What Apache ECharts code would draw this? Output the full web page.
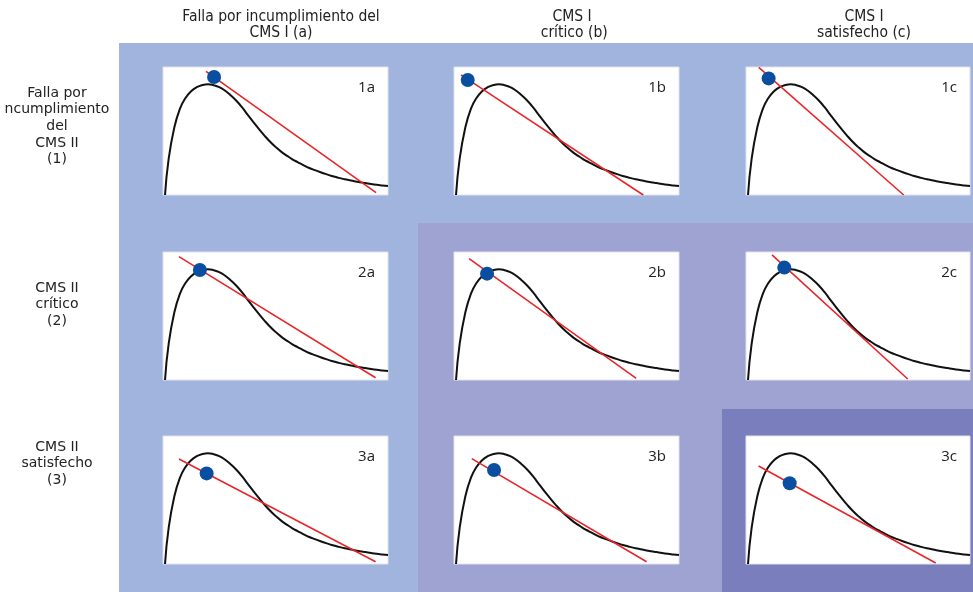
<!DOCTYPE html>
<html>
<head>
<meta charset="utf-8">
<script src="https://cdn.jsdelivr.net/npm/echarts@6/dist/echarts.min.js"></script>
<style>
html,body{margin:0;padding:0;background:#fff;}
#chart{width:973px;height:592px;}
</style>
</head>
<body>
<div id="chart"></div>
<script>
// Column / row headers
var colHeaders = [["Falla por incumplimiento del", "CMS I (a)"], ["CMS I", " crítico (b)"], ["CMS I", "satisfecho (c)"]];
var rowHeaders = [["Falla por", "ncumplimiento", "del", "CMS II", "(1)"], ["CMS II", "crítico", "(2)"], ["CMS II", "satisfecho", "(3)"]];
var panelLabels = ["1a", "1b", "1c", "2a", "2b", "2c", "3a", "3b", "3c"];

// Distribution curve (percent of panel width / height), same in every panel
var curveX = [0.9, 2.5, 5, 7.5, 10, 12.5, 15, 17.5, 20, 22.5, 25, 27.5, 30, 32.5, 35, 37.5, 40, 42.5, 45, 47.5, 50,
  52.5, 55, 57.5, 60, 62.5, 65, 67.5, 70, 72.5, 75, 77.5, 80, 82.5, 85, 87.5, 90, 92.5, 95, 97.5, 100];
var curveY = [0, 28, 52.5, 67.3, 75.8, 81, 84.2, 85.9, 86.5, 85.8, 84.3, 81.6, 78, 73.8, 68.8, 63, 57.3, 51.8, 46.6, 41.8, 37.6,
  33.9, 30.8, 27.9, 25.5, 23.2, 21.1, 19.4, 17.8, 16.3, 14.9, 13.7, 12.6, 11.7, 10.8, 10, 9.3, 8.6, 8, 7.5, 7];

// Red line end points per panel: [x1, y1, x2, y2]
var redLines = [
  [19.1, 96.6, 94.7, 1.8],
  [3.1, 93.8, 84.1, 0],
  [5.7, 99.7, 70.4, 0],
  [7.1, 96.4, 94.5, 1.8],
  [6.7, 94.8, 81.0, 1.3],
  [11.6, 97.7, 72.2, 0.8],
  [7.1, 82.0, 94.5, 1.8],
  [7.9, 82.3, 85.6, 1.8],
  [5.6, 76.6, 84.7, 0.8]
];
// Blue dot per panel: [x, y]
var dots = [
  [22.7, 92.2], [6.1, 89.8], [10.1, 91.1],
  [16.4, 85.9], [14.7, 83.1], [17.1, 87.8],
  [19.4, 70.8], [17.8, 73.4], [19.5, 63.1]
];

var colLeft = [163, 454, 746];
var rowTop = [67, 252, 436];
var panelW = 225, panelH = 128;

var curveData = curveX.map(function (x, i) { return [x, curveY[i]]; });

var grids = [], xAxes = [], yAxes = [], series = [], graphics = [];

// background regions
graphics.push({type: 'rect', shape: {x: 119, y: 43, width: 854, height: 549}, style: {fill: '#a0b4dd'}, z: -10});
graphics.push({type: 'rect', shape: {x: 418, y: 223, width: 555, height: 369}, style: {fill: '#9fa3d1'}, z: -9});
graphics.push({type: 'rect', shape: {x: 722, y: 409, width: 251, height: 183}, style: {fill: '#7a7ebd'}, z: -8});

for (var r = 0; r < 3; r++) {
  for (var c = 0; c < 3; c++) {
    var k = r * 3 + c;
    var w = c === 2 ? 224 : panelW;
    grids.push({left: colLeft[c], top: rowTop[r], width: w, height: panelH, show: true,
      backgroundColor: '#ffffff', borderColor: '#dfe3ee', borderWidth: 1});
    xAxes.push({type: 'value', gridIndex: k, min: 0, max: 100, show: false});
    yAxes.push({type: 'value', gridIndex: k, min: 0, max: 100, show: false});
    series.push({type: 'line', xAxisIndex: k, yAxisIndex: k, data: curveData, smooth: 0.5,
      symbol: 'none', lineStyle: {color: '#111', width: 2}, z: 2, silent: true});
    var rl = redLines[k];
    series.push({type: 'line', xAxisIndex: k, yAxisIndex: k, data: [[rl[0], rl[1]], [rl[2], rl[3]]],
      symbol: 'none', lineStyle: {color: '#e8262a', width: 1.6}, z: 3, silent: true});
    series.push({type: 'scatter', xAxisIndex: k, yAxisIndex: k, data: [dots[k]], symbolSize: 14,
      itemStyle: {color: '#0a4ea2', opacity: 1}, z: 4, clip: false, silent: true});
    graphics.push({type: 'text', x: colLeft[c] + w - 13, y: rowTop[r] + 21,
      style: {text: panelLabels[k], font: '15px "Open Sans"', fill: '#222', textAlign: 'right', textVerticalAlign: 'middle'}, z: 10});
  }
}

var colCenters = [281, 572, 864];
for (var c2 = 0; c2 < 3; c2++) {
  for (var l = 0; l < 2; l++) {
    graphics.push({type: 'text', x: colCenters[c2], y: 17 + l * 16,
      style: {text: colHeaders[c2][l], font: '15.5px "DejaVu Sans Condensed"', fill: '#222', textAlign: 'center', textVerticalAlign: 'middle'}});
  }
}
var rowFirst = [93, 288, 447];
for (var r2 = 0; r2 < 3; r2++) {
  for (var j = 0; j < rowHeaders[r2].length; j++) {
    graphics.push({type: 'text', x: 57, y: rowFirst[r2] + j * 16.7,
      style: {text: rowHeaders[r2][j], font: '14px "DejaVu Sans"', fill: '#222', textAlign: 'center', textVerticalAlign: 'middle'}});
  }
}

var chart = echarts.init(document.getElementById('chart'));
chart.setOption({
  animation: false,
  grid: grids,
  xAxis: xAxes,
  yAxis: yAxes,
  series: series,
  graphic: graphics
});
</script>
</body>
</html>
